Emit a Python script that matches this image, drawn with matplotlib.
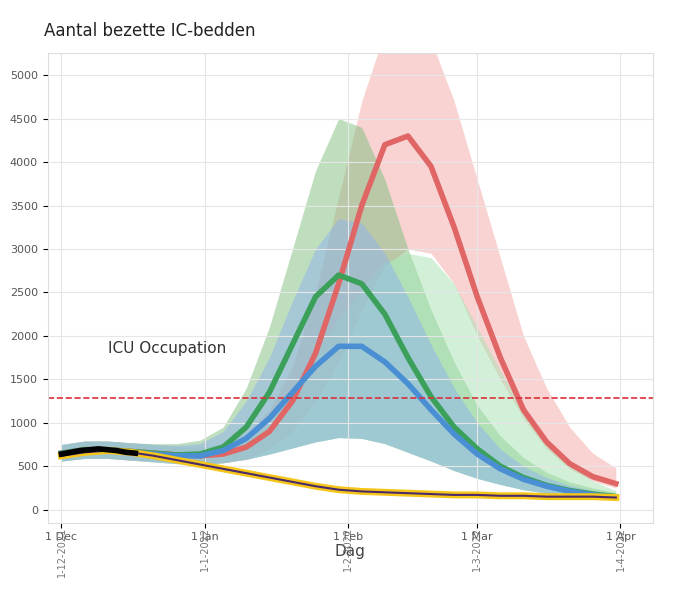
import numpy as np
import matplotlib.pyplot as plt

days = np.arange(0, 121, 5)
red = [650, 690, 690, 670, 650, 630, 620, 640, 720, 900, 1250, 1800, 2600, 3500, 4200, 4300, 3950, 3250, 2450, 1750, 1150, 780, 530, 380, 300]
red_hi = [750, 790, 790, 770, 750, 730, 720, 760, 880, 1150, 1650, 2500, 3600, 4700, 5500, 5700, 5400, 4700, 3800, 2900, 2000, 1400, 950, 650, 480]
red_lo = [560, 590, 590, 570, 560, 540, 530, 540, 580, 700, 900, 1250, 1700, 2300, 2800, 3000, 2950, 2600, 2000, 1500, 1050, 700, 470, 330, 250]
green = [650, 690, 690, 670, 650, 630, 640, 720, 950, 1350, 1900, 2450, 2700, 2600, 2250, 1750, 1300, 950, 700, 500, 370, 280, 220, 180, 150]
green_hi = [750, 790, 790, 770, 760, 760, 800, 950, 1400, 2100, 3000, 3900, 4500, 4400, 3800, 3000, 2300, 1700, 1200, 850, 600, 430, 320, 250, 200]
green2_hi = [750, 790, 790, 770, 750, 730, 720, 760, 880, 1100, 1400, 1800, 2200, 2550, 2850, 2950, 2900, 2600, 2100, 1600, 1150, 800, 520, 330, 220]
blue = [640, 680, 680, 660, 640, 620, 620, 680, 820, 1050, 1350, 1650, 1880, 1880, 1700, 1450, 1150, 870, 640, 470, 350, 270, 210, 170, 140]
blue_hi = [750, 790, 790, 770, 750, 740, 760, 900, 1250, 1750, 2400, 3000, 3350, 3300, 2950, 2450, 1900, 1400, 1000, 700, 500, 370, 280, 220, 180]
blue_lo = [560, 590, 590, 570, 550, 530, 520, 540, 580, 640, 710, 780, 830, 820, 760, 660, 560, 450, 360, 290, 230, 190, 160, 130, 110]
actual = [620, 660, 680, 660, 620, 570, 520, 470, 420, 370, 320, 270, 230, 210, 200, 190, 180, 170, 170, 160, 160, 150, 150, 150, 140]
obs_days = [0, 2, 4, 6, 8, 10, 12, 14, 16]
obs = [640, 660, 680, 690, 700, 690, 680, 660, 650]
threshold = 1280

tick_days = [0, 31, 62, 90, 121]
tick_labels = ['1 Dec', '1 Jan', '1 Feb', '1 Mar', '1 Apr']
tick_labels2 = ['1-12-2021', '1-1-2022', '1-2-2022', '1-3-2022', '1-4-2022']

fig, ax = plt.subplots(figsize=(6.8, 5.94), dpi=100)
fig.subplots_adjust(left=0.07, right=0.96, top=0.91, bottom=0.12)

ax.fill_between(days, red_lo, red_hi, color='#f4a6a6', alpha=0.5, lw=0)
ax.fill_between(days, blue_lo, green_hi, color='#7fbf7f', alpha=0.5, lw=0)
ax.fill_between(days, blue_lo, green2_hi, color='#a6e3b0', alpha=0.5, lw=0)
ax.fill_between(days, blue_lo, blue_hi, color='#8fb3ef', alpha=0.5, lw=0)
ax.plot(days, red, color='#e06666', lw=4)
ax.plot(days, green, color='#3aa05a', lw=4)
ax.plot(days, blue, color='#4a8fd4', lw=4)
ax.plot(days, actual, color='#f5c518', lw=5)
ax.plot(days, actual, color='#4b2a6b', lw=1.5)
ax.plot(obs_days, obs, color='black', lw=4)
ax.axhline(threshold, color='#d9303a', ls='--', lw=1.2)
ax.text(10, 1800, 'ICU Occupation', fontsize=11, color='#333333')

ax.set_xlim(-3, 128)
ax.set_ylim(-150, 5250)
ax.set_yticks(np.arange(0, 5001, 500))
ax.set_xticks(tick_days)
ax.set_xticklabels(tick_labels, fontsize=8, color='#555555')
for d, lab in zip(tick_days, tick_labels2):
    ax.text(d, -200, lab, rotation=90, ha='center', va='top', fontsize=7, color='#777777')
ax.tick_params(axis='y', labelsize=8, labelcolor='#555555')
ax.grid(color='#e6e6e6', lw=0.8)
for s in ax.spines.values():
    s.set_color('#dddddd')
ax.set_xlabel('Dag', fontsize=11, color='#444444', labelpad=1)
fig.text(0.065, 0.94, 'Aantal bezette IC-bedden', fontsize=12, color='#222222')

fig.savefig('out.png')
